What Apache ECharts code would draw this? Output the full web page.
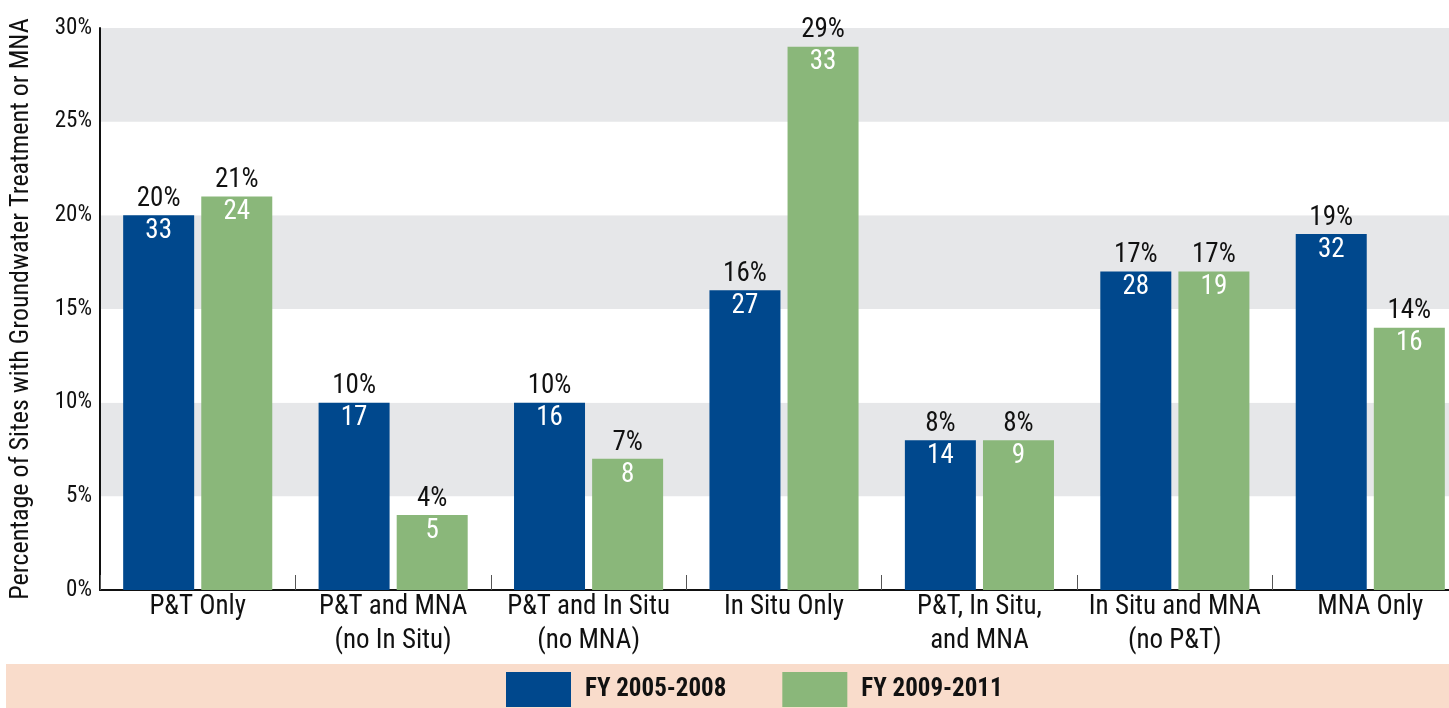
<!DOCTYPE html>
<html>
<head>
<meta charset="utf-8">
<script src="https://cdn.jsdelivr.net/npm/echarts@6/dist/echarts.min.js"></script>
<style>
  html, body { margin: 0; padding: 0; background: #fff; overflow: hidden; }
  #chart { width: 1468px; height: 708px; }
</style>
</head>
<body>
<div id="chart"></div>
<script>
var categories = ['P&T Only', 'P&T and MNA\n(no In Situ)', 'P&T and In Situ\n(no MNA)', 'In Situ Only',
    'P&T, In Situ,\nand MNA', 'In Situ and MNA\n(no P&T)', 'MNA Only'];
var pctOld = [20, 10, 10, 16, 8, 17, 19];
var cntOld = [33, 17, 16, 27, 14, 28, 32];
var pctNew = [21, 4, 7, 29, 8, 17, 14];
var cntNew = [24, 5, 8, 33, 9, 19, 16];
var seriesNames = ['FY 2005-2008', 'FY 2009-2011'];
var yTicks = [0, 5, 10, 15, 20, 25, 30];

var font = "'Roboto Condensed', 'DejaVu Sans Condensed', sans-serif";
var blue = '#00488d';
var green = '#8ab77a';

// percent above the bar, count inside the top of it
function barLabel(counts) {
    return {
        show: true,
        position: 'top',
        distance: 0,
        offset: [0, 32],
        formatter: function (p) {
            return '{p|' + p.value + '%}\n{c|' + counts[p.dataIndex] + '}';
        },
        rich: {
            p: {color: '#111', fontSize: 27, lineHeight: 32, fontFamily: font},
            c: {color: '#fff', fontSize: 27, lineHeight: 32, fontFamily: font}
        }
    };
}

var mychart = echarts.init(document.getElementById('chart'));
var option = {
    animation: false,
    textStyle: {fontFamily: font},
    graphic: [
        {type: 'rect', shape: {x: 6, y: 664, width: 1462, height: 44}, style: {fill: '#f9dccb'}, z: -1},
        // grey bands stop short of the right edge in the original
        {type: 'rect', shape: {x: 1443, y: 0, width: 25, height: 600}, style: {fill: '#fff'}, z: 0}
    ],
    legend: {
        left: 506,
        top: 672,
        padding: 0,
        itemWidth: 65,
        itemHeight: 35,
        itemGap: 56,
        icon: 'rect',
        textStyle: {fontSize: 25, fontWeight: 'bold', color: '#111', fontFamily: font, padding: [0, 0, 0, 9]},
        data: seriesNames
    },
    grid: {left: 100, top: 28, bottom: 118, right: 0},
    xAxis: {
        type: 'category',
        data: categories,
        axisLine: {lineStyle: {color: '#111', width: 2}},
        axisTick: {show: true, inside: true, length: 15, interval: 0, lineStyle: {color: '#555'}},
        axisLabel: {
            interval: 0,
            color: '#111',
            fontSize: 27,
            lineHeight: 34,
            margin: 0,
            fontFamily: font
        }
    },
    yAxis: {
        type: 'value',
        min: 0,
        max: 30,
        interval: 5,
        name: 'Percentage of Sites with Groundwater Treatment or MNA',
        nameLocation: 'middle',
        nameGap: 66,
        nameTextStyle: {fontSize: 26, color: '#111', fontFamily: font},
        axisLine: {show: true, lineStyle: {color: '#111', width: 2}},
        axisTick: {show: false},
        splitLine: {show: false},
        splitArea: {show: true, areaStyle: {color: ['#ffffff', '#e6e7e9']}},
        axisLabel: {
            color: '#111',
            fontSize: 23,
            margin: 8,
            fontFamily: font,
            formatter: function (v) {
                return yTicks.indexOf(v) >= 0 ? v + '%' : '';
            }
        }
    },
    series: [
        {
            name: seriesNames[0],
            type: 'bar',
            barWidth: 71,
            barGap: '10%',
            itemStyle: {color: blue},
            label: barLabel(cntOld),
            data: pctOld
        },
        {
            name: seriesNames[1],
            type: 'bar',
            barWidth: 71,
            barGap: '10%',
            itemStyle: {color: green},
            label: barLabel(cntNew),
            data: pctNew
        }
    ]
};
mychart.setOption(option);
</script>
</body>
</html>
